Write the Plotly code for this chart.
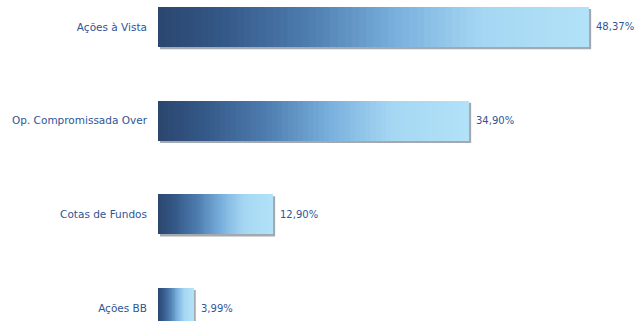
import plotly.graph_objects as go

categories = ["Ações à Vista", "Op. Compromissada Over", "Cotas de Fundos", "Ações BB"]
values = [48.37, 34.90, 12.90, 3.99]
value_labels = ["48,37%", "34,90%", "12,90%", "3,99%"]

# gradient stops (fraction of bar length, color)
stops = [(0.0, (42, 70, 110)), (0.15, (52, 88, 135)), (0.35, (78, 125, 175)),
         (0.55, (120, 175, 220)), (0.75, (165, 215, 243)), (1.0, (178, 226, 248))]

def color_at(t):
    for (a, ca), (b, cb) in zip(stops[:-1], stops[1:]):
        if a <= t <= b:
            f = (t - a) / (b - a)
            c = [round(ca[i] + (cb[i] - ca[i]) * f) for i in range(3)]
            return "rgb(%d,%d,%d)" % tuple(c)
    return "rgb(%d,%d,%d)" % stops[-1][1]

FONT = "DejaVu Sans, Verdana, sans-serif"
TXT = "#2f5595"
N = 60
bar_w = 0.427
fig = go.Figure()
for k in range(N):
    fig.add_trace(go.Bar(
        y=list(range(len(categories))), x=[v / N for v in values], orientation="h",
        marker=dict(color=color_at((k + 0.5) / N), line=dict(width=0)),
        width=bar_w, showlegend=False, hoverinfo="skip"))

annotations = []
for i, (v, lab) in enumerate(zip(values, value_labels)):
    annotations.append(dict(x=v, y=i, xref="x", yref="y", text=lab, showarrow=False,
                            xanchor="left", yanchor="middle", xshift=5,
                            font=dict(family=FONT, size=10, color=TXT)))

shapes = []
px_x = 1 / 8.91
px_y = 1 / 93.7
for i, v in enumerate(values):
    shapes.append(dict(type="rect", layer="below", xref="x", yref="y",
                       x0=2 * px_x, x1=v + 2.2 * px_x,
                       y0=i - bar_w / 2 + 2 * px_y, y1=i + bar_w / 2 + 2.2 * px_y,
                       fillcolor="#a4a9b0", line=dict(width=0)))

fig.update_layout(
    barmode="stack", width=636, height=321,
    margin=dict(l=158, r=0, t=0, b=0),
    paper_bgcolor="white", plot_bgcolor="white",
    shapes=shapes, annotations=annotations,
    xaxis=dict(range=[0, 53.65], visible=False, fixedrange=True),
    yaxis=dict(range=[3.138, -0.288], tickmode="array", tickvals=list(range(len(categories))),
               ticktext=categories, showgrid=False, zeroline=False, showline=False,
               ticks="", ticklabelstandoff=10,
               tickfont=dict(family=FONT, size=10.5, color=TXT)),
)
fig.write_html("out.html")
